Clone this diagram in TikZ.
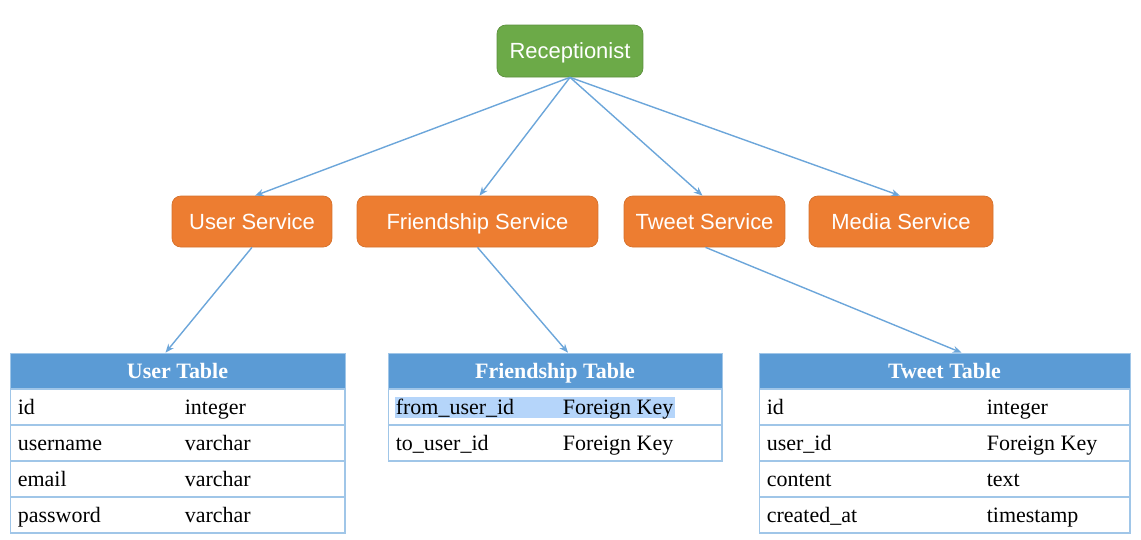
\documentclass[tikz,border=0pt]{standalone}
\usepackage{fontspec}
\setmainfont{Liberation Serif}
\newfontfamily\labelsans{Liberation Sans}
\usepackage{tikz}
\usetikzlibrary{arrows.meta}
\usetikzlibrary{positioning}
\definecolor{recgreen}{RGB}{108,170,72}
\definecolor{svcorange}{RGB}{237,125,49}
\definecolor{headblue}{RGB}{91,155,213}
\definecolor{gridblue}{RGB}{160,198,232}
\definecolor{linkblue}{RGB}{108,166,218}
\definecolor{selblue}{RGB}{181,213,250}
\tikzset{
  every node/.style={font=\rmfamily},
  link/.style={
    draw=linkblue,
    line width=0.8pt,
    -{Stealth[length=5pt, width=4pt]}
  }
}

\begin{document}
\begin{tikzpicture}[x=0.02cm, y=-0.02cm]
  \tikzset{
    boxnode/.style={
      rounded corners=5pt,
      minimum height=1.02cm,
      inner sep=0pt,
      text height=2.3ex,
      text depth=0.35ex,
      text=white,
      font=\labelsans\fontsize{12.5}{15}\selectfont
    },
    recept/.style={boxnode, fill=recgreen, draw=recgreen!85!black, minimum height=1.04cm},
    service/.style={boxnode, fill=svcorange, draw=svcorange!90!black},
    thead/.style={
      draw=gridblue,
      fill=headblue,
      minimum height=0.72cm,
      inner sep=0pt,
      text height=2.1ex,
      text depth=0.35ex,
      text=white,
      font=\bfseries\fontsize{12.5}{15}\selectfont
    },
    trow/.style={
      draw=gridblue,
      line width=0.6pt,
      minimum height=0.72cm,
      inner sep=0pt
    },
    cell/.style={
      anchor=west,
      inner sep=0pt,
      text height=2.1ex,
      text depth=0.35ex,
      font=\fontsize{12.5}{15}\selectfont
    }
  }
  \useasboundingbox (0,0) rectangle (1141,539);

  % top node
  \node[recept, minimum width=2.92cm] (rec) at (570,51) {Receptionist};

  % services
  \node[service, minimum width=3.2cm]  (us) at (252,221.5) {User Service};
  \node[service, minimum width=4.82cm] (fs) at (477.5,221.5) {Friendship Service};
  \node[service, minimum width=3.22cm] (ts) at (704.5,221.5) {Tweet Service};
  \node[service, minimum width=3.68cm] (ms) at (901,221.5) {Media Service};

  \draw[link] (rec.south) -- ([xshift=0.06cm]us.north);
  \draw[link] (rec.south) -- ([xshift=0.04cm]fs.north);
  \draw[link] (rec.south) -- ([xshift=-0.04cm]ts.north);
  \draw[link] (rec.south) -- ([xshift=-0.02cm]ms.north);

  % user table
  \node[thead, minimum width=6.7cm] (ut) at (177.5,371) {User Table};
  \foreach \a/\b [count=\i] in {id/integer, username/varchar, email/varchar, password/varchar}{
    \node[trow, minimum width=6.7cm] (ut\i) at (177.5,{371+36*\i}) {};
    \node[cell] at ([xshift=0.16cm]ut\i.west) {\a};
    \node[cell] at ([xshift=3.5cm]ut\i.west) {\b};
  }

  % friendship table
  \node[thead, minimum width=6.68cm] (ft) at (555,371) {Friendship Table};
  \fill[selblue] (395,397) rectangle (675,418);
  \foreach \a/\b [count=\i] in {from\_user\_id/Foreign Key, to\_user\_id/Foreign Key}{
    \node[trow, minimum width=6.68cm] (ft\i) at (555,{371+36*\i}) {};
    \node[cell] at ([xshift=0.16cm]ft\i.west) {\a};
    \node[cell] at ([xshift=3.5cm]ft\i.west) {\b};
  }

  % tweet table
  \node[thead, minimum width=7.42cm] (tt) at (944.5,371) {Tweet Table};
  \foreach \a/\b [count=\i] in {id/integer, user\_id/Foreign Key, content/text, created\_at/timestamp}{
    \node[trow, minimum width=7.42cm] (tt\i) at (944.5,{371+36*\i}) {};
    \node[cell] at ([xshift=0.16cm]tt\i.west) {\a};
    \node[cell] at ([xshift=4.56cm]tt\i.west) {\b};
  }

  \draw[link] (us.south) -- ([xshift=-0.24cm]ut.north);
  \draw[link] (fs.south) -- ([xshift=0.26cm]ft.north);
  \draw[link] ([xshift=0.02cm]ts.south) -- ([xshift=0.34cm]tt.north);
\end{tikzpicture}
\end{document}
